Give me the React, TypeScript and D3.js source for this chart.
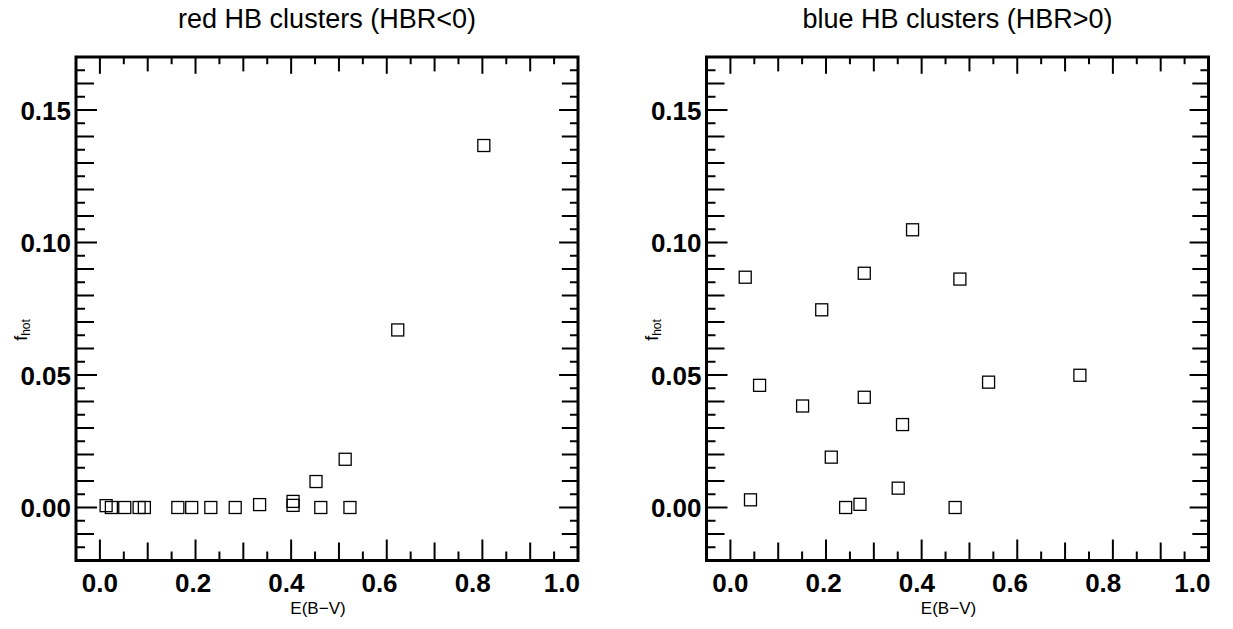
import React from "react";
import * as d3 from "d3";

// ---- data ----
const redEBV = [0.013, 0.024, 0.052, 0.082, 0.093, 0.163, 0.192, 0.232, 0.283, 0.334, 0.404, 0.404, 0.452, 0.462, 0.513, 0.523, 0.623, 0.803];
const redFhot = [0.0007, 0.0, 0.0, 0.0, 0.0, 0.0, 0.0, 0.0, 0.0, 0.0011, 0.0023, 0.0008, 0.0098, 0.0, 0.0182, 0.0, 0.067, 0.1366];

const blueEBV = [0.031, 0.042, 0.061, 0.151, 0.191, 0.211, 0.241, 0.271, 0.280, 0.280, 0.351, 0.360, 0.381, 0.470, 0.480, 0.540, 0.731];
const blueFhot = [0.0869, 0.0029, 0.0461, 0.0383, 0.0746, 0.019, 0.0, 0.0012, 0.0884, 0.0416, 0.0073, 0.0313, 0.1048, 0.0, 0.0862, 0.0473, 0.0499];

const xTickLabels = [0.0, 0.2, 0.4, 0.6, 0.8, 1.0];
const yTickLabels = [0.0, 0.05, 0.1, 0.15];
const xDomain = [-0.05, 1.0];
const yDomain = [-0.02, 0.17];
const panelTitles = ["red HB clusters (HBR<0)", "blue HB clusters (HBR>0)"];
const xTitle = "E(B\u2212V)";

const FONT = "'Liberation Sans', Arial, Helvetica, sans-serif";

function Panel({ left, title, xs, ys }: { left: number; title: string; xs: number[]; ys: number[] }) {
  const right = left + 502;
  const top = 57;
  const bottom = 560.5;
  const x = d3.scaleLinear().domain(xDomain).range([left, right]);
  const y = d3.scaleLinear().domain(yDomain).range([bottom, top]);
  const xLab = d3.scaleLinear().domain([0, 1]).range([x(0), x(0) + 466]);

  const xTicks = d3.range(0, 21).map((i) => i * 0.05).filter((v) => v <= 1.0001);
  const yTicks = d3.range(-4, 35).map((i) => i * 0.005).filter((v) => v >= -0.0201 && v <= 0.1701);

  const xLen = (i: number) => (i % 4 === 0 ? 21 : i % 2 === 0 ? 18 : 9);
  const sq = 12;

  return (
    <g>
      <text x={(left + right) / 2} y={28} textAnchor="middle" fontFamily={FONT} fontSize={27} fill="#000">
        {title}
      </text>
      {xTicks.map((v, i) => (
        <g key={"xt" + i}>
          <line x1={x(v)} x2={x(v)} y1={bottom} y2={bottom - xLen(i)} stroke="#000" strokeWidth={2} />
          <line x1={x(v)} x2={x(v)} y1={top} y2={top + xLen(i) * 0.8} stroke="#000" strokeWidth={2} />
        </g>
      ))}
      {yTicks.map((v, i) => {
        const idx = Math.round(v / 0.005);
        const len = ((idx % 10) + 10) % 10 === 0 ? 21 : ((idx % 2) + 2) % 2 === 0 ? 18 : 9;
        return (
          <g key={"yt" + i}>
            <line x1={left} x2={left + len} y1={y(v)} y2={y(v)} stroke="#000" strokeWidth={2} />
            <line x1={right} x2={right - len * 0.9} y1={y(v)} y2={y(v)} stroke="#000" strokeWidth={2} />
          </g>
        );
      })}
      <rect x={left} y={top} width={right - left} height={bottom - top} fill="none" stroke="#000" strokeWidth={3} />
      {xTickLabels.map((v, i) => (
        <text
          key={"xl" + i}
          x={i === xTickLabels.length - 1 ? right + 2 : xLab(v)}
          y={592}
          textAnchor={i === xTickLabels.length - 1 ? "end" : "middle"}
          fontFamily={FONT}
          fontWeight="bold"
          fontSize={26}
          fill="#000"
        >
          {v.toFixed(1)}
        </text>
      ))}
      {yTickLabels.map((v, i) => (
        <text
          key={"yl" + i}
          x={left - 5}
          y={y(v) + 9.5}
          textAnchor="end"
          fontFamily={FONT}
          fontWeight="bold"
          fontSize={26}
          fill="#000"
        >
          {v.toFixed(2)}
        </text>
      ))}
      <text x={left + 242} y={614} textAnchor="middle" fontFamily={FONT} fontSize={17} fill="#000">
        {xTitle}
      </text>
      <text
        transform={`translate(${left - 49},330) rotate(-90)`}
        textAnchor="middle"
        fontFamily={FONT}
        fontSize={18}
        fill="#000"
      >
        f
        <tspan fontSize={12} dy={3}>
          hot
        </tspan>
      </text>
      {xs.map((v, i) => (
        <rect
          key={"p" + i}
          x={x(v) - sq / 2}
          y={y(ys[i]) - sq / 2}
          width={sq}
          height={sq}
          fill="none"
          stroke="#000"
          strokeWidth={1.3}
        />
      ))}
    </g>
  );
}

export default function App() {
  return (
    <svg width={1233} height={629} style={{ position: "absolute", left: 0, top: 0, background: "#fff" }}>
      <rect width={1233} height={629} fill="#fff" />
      <Panel left={76} title={panelTitles[0]} xs={redEBV} ys={redFhot} />
      <Panel left={706.5} title={panelTitles[1]} xs={blueEBV} ys={blueFhot} />
    </svg>
  );
}
